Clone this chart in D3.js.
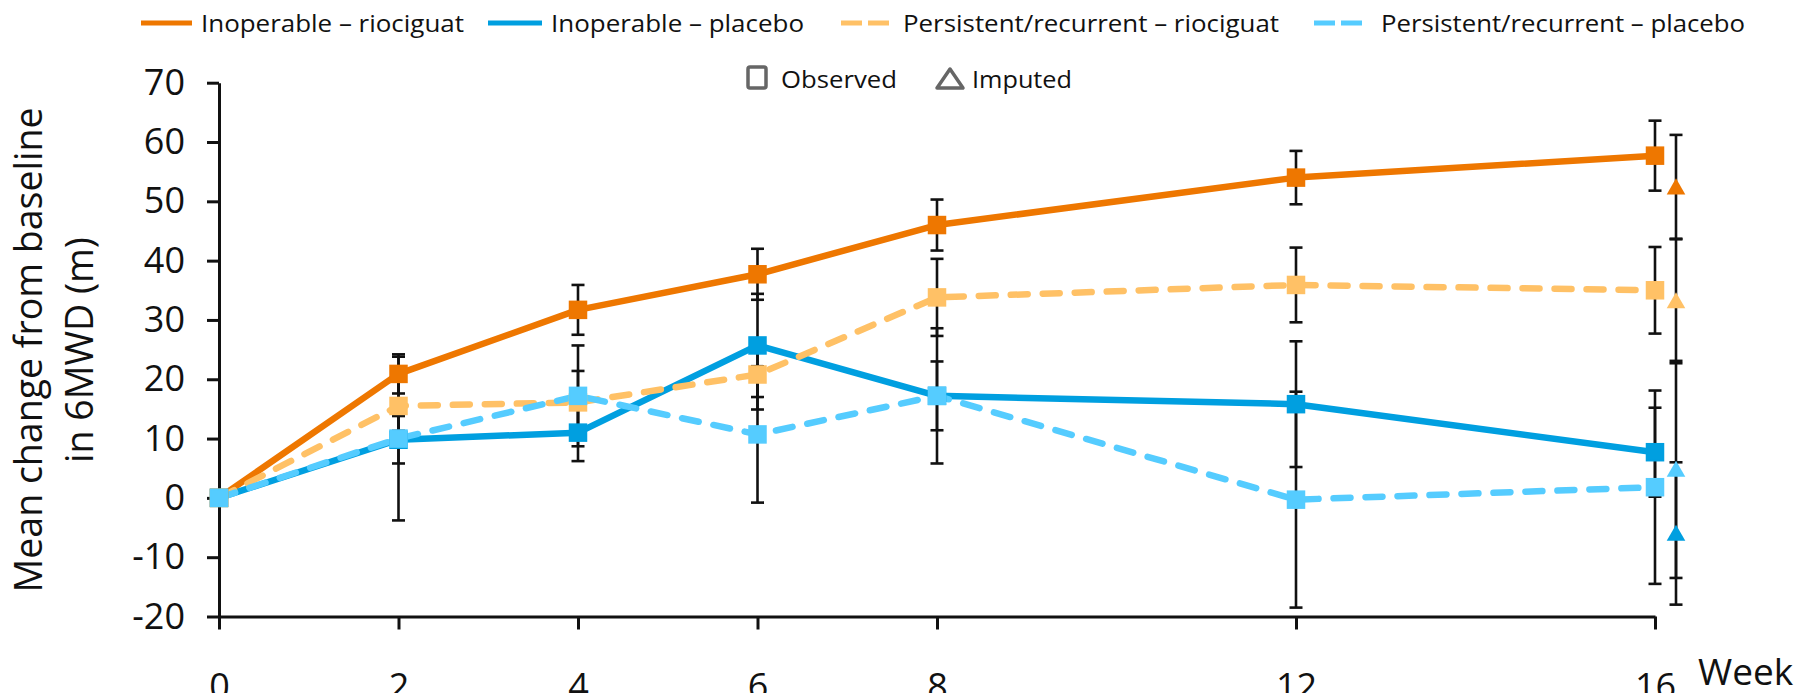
<!DOCTYPE html>
<html>
<head>
<meta charset="utf-8">
<script src="https://cdn.jsdelivr.net/npm/d3@7"></script>
<style>
  html, body { margin: 0; padding: 0; background: #fff; }
  svg { display: block; }
  text { font-family: "Open Sans", "Noto Sans", sans-serif; fill: #111; }
</style>
</head>
<body>
<svg id="chart" width="1800" height="693"></svg>
<script>
// ---------------- data ----------------
const weeks = [0, 2, 4, 6, 8, 12, 16];
const xTickValues = [0, 2, 4, 6, 8, 12, 16];
const yTickValues = [-20, -10, 0, 10, 20, 30, 40, 50, 60, 70];

const seriesNames = [
  "Inoperable \u2013 riociguat",
  "Inoperable \u2013 placebo",
  "Persistent/recurrent \u2013 riociguat",
  "Persistent/recurrent \u2013 placebo"
];
const inopRioMean  = [0, 20.9, 31.7, 37.7, 46.0, 54.0, 57.7];
const inopRioErr   = [null, 3.3, 4.2, 4.3, 4.3, 4.5, 5.9];
const inopPlaMean  = [0, 9.8, 11.0, 25.7, 17.2, 15.8, 7.7];
const inopPlaErr   = [null, 4.0, 4.8, 8.7, 5.8, 10.6, 7.5];
const persRioMean  = [0, 15.5, 16.1, 20.8, 33.8, 35.9, 35.0];
const persRioErr   = [null, 4.2, 5.3, 5.9, 6.5, 6.3, 7.3];
const persPlaMean  = [0, 10.0, 17.2, 10.7, 17.2, -0.3, 1.8];
const persPlaErr   = [null, 13.8, 8.5, 11.5, 11.4, 18.2, 16.3];

// imputed values at week 16 (same series order)
const imputedWeek = 16;
const imputedMean = [52.4, -6.0, 33.2, 4.8];
const imputedErr  = [8.8, 12.0, 10.5, 18.3];

const markerLegend = ["Observed", "Imputed"];

// ---------------- styles ----------------
const colors = ["#EE7700", "#009FE0", "#FFC166", "#55CCFF"];
const dashed = [false, false, true, true];

const svg = d3.select("#chart");
const x = d3.scaleLinear().domain([0, 16]).range([219, 1655]);
const y = d3.scaleLinear().domain([-20, 70]).range([616.5, 82.7]);

const means = [inopRioMean, inopPlaMean, persRioMean, persPlaMean];
const errs = [inopRioErr, inopPlaErr, persRioErr, persPlaErr];
const series = seriesNames.map((name, i) => ({
  name, color: colors[i], dashed: dashed[i],
  points: weeks.map((w, j) => ({ w, v: means[i][j], e: errs[i][j] })),
  imp: { w: imputedWeek, v: imputedMean[i], e: imputedErr[i] }
}));

// ---------------- axes ----------------
const axisColor = "#111";
const yAxis = svg.append("g")
  .attr("transform", `translate(${x(0)},0)`)
  .call(d3.axisLeft(y).tickValues(yTickValues).tickFormat(d => String(d))
    .tickSize(12).tickSizeOuter(0).tickPadding(22));
const xAxis = svg.append("g")
  .attr("transform", `translate(0,${y(-20)})`)
  .call(d3.axisBottom(x).tickValues(xTickValues).tickSize(13).tickSizeOuter(0).tickPadding(44));
[yAxis, xAxis].forEach(g => {
  g.selectAll("path.domain").attr("stroke", axisColor).attr("stroke-width", 3);
  g.selectAll(".tick line").attr("stroke", axisColor).attr("stroke-width", 3);
  g.selectAll(".tick text").style("font-size", "36px").attr("fill", axisColor)
    .style("font-family", '"Open Sans", sans-serif');
});

svg.append("text").attr("x", 1698).attr("y", 685)
  .style("font-size", "37px").text("Week");

svg.append("text")
  .attr("transform", `translate(42,350) rotate(-90)`)
  .attr("text-anchor", "middle").style("font-size", "37.5px")
  .text("Mean change from baseline");
svg.append("text")
  .attr("transform", `translate(93,350) rotate(-90)`)
  .attr("text-anchor", "middle").style("font-size", "37.5px")
  .text("in 6MWD (m)");

// ---------------- error bars ----------------
const capHalf = 6.5;
const ebG = svg.append("g").attr("stroke", "#111").attr("stroke-width", 2.6);
function errBar(px, v, e) {
  if (e == null) return;
  ebG.append("line").attr("x1", px).attr("x2", px).attr("y1", y(v - e)).attr("y2", y(v + e));
  ebG.append("line").attr("x1", px - capHalf).attr("x2", px + capHalf).attr("y1", y(v + e)).attr("y2", y(v + e));
  ebG.append("line").attr("x1", px - capHalf).attr("x2", px + capHalf).attr("y1", y(v - e)).attr("y2", y(v - e));
}
const impOffset = 21;
series.forEach(s => {
  s.points.forEach(p => errBar(x(p.w), p.v, p.e));
  errBar(x(s.imp.w) + impOffset, s.imp.v, s.imp.e);
});

// ---------------- lines ----------------
const line = d3.line().x(d => x(d.w)).y(d => y(d.v));
series.forEach(s => {
  svg.append("path").datum(s.points)
    .attr("fill", "none").attr("stroke", s.color).attr("stroke-width", 6.5)
    .attr("stroke-linecap", s.dashed ? "round" : "butt")
    .attr("stroke-linejoin", "round")
    .attr("stroke-dasharray", s.dashed ? "17,15" : null)
    .attr("d", line);
});

// ---------------- markers ----------------
const sq = 17;
series.forEach(s => {
  svg.append("g").selectAll("rect").data(s.points).join("rect")
    .attr("x", d => x(d.w) - sq / 2).attr("y", d => y(d.v) - sq / 2)
    .attr("width", sq).attr("height", sq)
    .attr("fill", s.color).attr("stroke", s.color).attr("stroke-width", 1.5);
});
const tri = d3.symbol().type(d3.symbolTriangle).size(150);
series.forEach(s => {
  svg.append("path").attr("d", tri)
    .attr("transform", `translate(${x(s.imp.w) + impOffset},${y(s.imp.v) + 2})`)
    .attr("fill", s.color);
});

// ---------------- legend ----------------
const legendLayout = [
  { lx1: 141, lx2: 192, tx: 201, tw: 263 },
  { lx1: 488, lx2: 542, tx: 551, tw: 253 },
  { lx1: 841, lx2: 889, tx: 903, tw: 376 },
  { lx1: 1314, lx2: 1362, tx: 1381, tw: 364 }
];
const lg = svg.append("g");
series.forEach((s, i) => {
  const L = legendLayout[i];
  lg.append("line").attr("x1", L.lx1).attr("x2", L.lx2).attr("y1", 23).attr("y2", 23)
    .attr("stroke", s.color).attr("stroke-width", 5)
    .attr("stroke-dasharray", s.dashed ? "21,6" : null);
  lg.append("text").attr("x", L.tx).attr("y", 32).style("font-size", "24px")
    .attr("textLength", L.tw).attr("lengthAdjust", "spacingAndGlyphs")
    .text(s.name);
});
// marker-type legend
lg.append("rect").attr("x", 748).attr("y", 67).attr("width", 18).attr("height", 21).attr("rx", 2)
  .attr("fill", "none").attr("stroke", "#666").attr("stroke-width", 3.5);
lg.append("text").attr("x", 781).attr("y", 88).style("font-size", "24px")
  .attr("textLength", 116).attr("lengthAdjust", "spacingAndGlyphs").text(markerLegend[0]);
lg.append("path").attr("d", "M937,88 L950,69 L963,88 Z")
  .attr("fill", "none").attr("stroke", "#666").attr("stroke-width", 3.5).attr("stroke-linejoin", "round");
lg.append("text").attr("x", 972).attr("y", 88).style("font-size", "24px")
  .attr("textLength", 100).attr("lengthAdjust", "spacingAndGlyphs").text(markerLegend[1]);
</script>
</body>
</html>
